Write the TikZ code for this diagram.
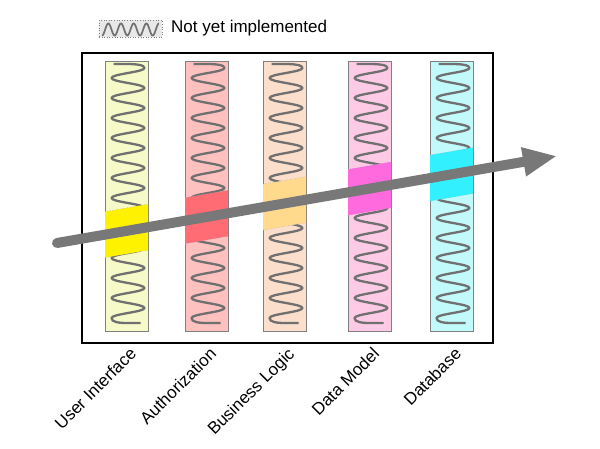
\documentclass[tikz,border=0pt]{standalone}
\usepackage{fontspec}
\setmainfont{Liberation Sans}
\usetikzlibrary{arrows.meta}
\definecolor{uiL}{RGB}{245,250,200}
\definecolor{uiD}{RGB}{255,242,0}
\definecolor{auL}{RGB}{255,192,192}
\definecolor{auD}{RGB}{255,108,116}
\definecolor{blL}{RGB}{251,223,204}
\definecolor{blD}{RGB}{255,217,140}
\definecolor{dmL}{RGB}{255,202,229}
\definecolor{dmD}{RGB}{255,106,222}
\definecolor{dbL}{RGB}{192,250,250}
\definecolor{dbD}{RGB}{51,240,255}
\definecolor{wavec}{RGB}{112,112,112}
\definecolor{arrowc}{RGB}{120,120,120}
\definecolor{colborder}{RGB}{128,128,128}
\definecolor{legfill}{RGB}{232,232,232}
\begin{document}
\begin{tikzpicture}[x=1pt,y=-1pt,
  frame/.style={draw=black, line width=1.8pt, fill=white, minimum width=411pt, minimum height=290pt, inner sep=0pt},
  col/.style={draw=colborder, line width=1pt, minimum width=43pt, minimum height=269pt, inner sep=0pt},
  wave/.style={draw=wavec, line width=2.3pt},
  band/.style={draw=colborder!70, line width=0.5pt, dotted},
  lab/.style={font=\fontsize{17}{20}\selectfont, inner sep=0pt, text=black},
  legbox/.style={draw=colborder, dotted, line width=0.6pt, fill=legfill, minimum width=63pt, minimum height=17pt, inner sep=0pt},
  bigarrow/.style={draw=arrowc, line width=10pt, line cap=round, -{Triangle[length=34pt,width=27pt]}}
]
\useasboundingbox (0,0) rectangle (600,449);
\node[frame] (frame) at (287.5,197.75) {};
\foreach \cx/\nm/\lc/\dc/\lab in {126.5/ui/uiL/uiD/User Interface, 206.5/au/auL/auD/Authorization, 284.5/bl/blL/blD/Business Logic, 369.5/dm/dmL/dmD/Data Model, 451.5/db/dbL/dbD/Database}{
  \node[col, fill=\lc] (\nm) at (\cx,196.5) {};
  \pgfmathsetmacro\L{\cx-15}
  \pgfmathsetmacro\R{\cx+18}
  \draw[wave, line join=round] (\cx-13,64) -- (\cx,64) .. controls (\cx+10,64) and (\R,65) .. (\R,68)
    foreach \k in {0,...,12} {
      .. controls (\R,68+20*\k+4) and (\L,78+20*\k-4) .. (\L,78+20*\k)
      \ifnum\k<12 .. controls (\L,78+20*\k+4) and (\R,88+20*\k-4) .. (\R,88+20*\k)\fi
    }
    .. controls (\L,322) and (\cx-8,323) .. (\cx,323) -- (\cx+14,323);
  \pgfmathsetmacro\ya{243-0.174*(\cx-21.5-57)}
  \pgfmathsetmacro\yb{243-0.174*(\cx+21.5-57)}
  \fill[\dc] (\cx-21.5,\ya-23) -- (\cx+21.5,\yb-23) -- (\cx+21.5,\yb+23) -- (\cx-21.5,\ya+23) -- cycle;
  \draw[band] (\cx-21.5,\ya-23) -- (\cx+21.5,\yb-23) (\cx+21.5,\yb+23) -- (\cx-21.5,\ya+23);
  \node[lab, anchor=base east, rotate=45] (\nm-lab) at (\cx+11,355) {\lab};
}
\coordinate (as) at (57,243);
\coordinate (ae) at (557,156);
\draw[bigarrow] (as) -- (ae);
\node[legbox] (leg) at (130.5,28.5) {};
\draw[wave, line width=1.7pt] plot[domain=0:57, samples=300, smooth] ({102+\x}, {29.5+6*cos(28.41*\x)});
\node[lab, anchor=west] (legtext) at (171,28.5) {Not yet implemented};
\end{tikzpicture}
\end{document}
